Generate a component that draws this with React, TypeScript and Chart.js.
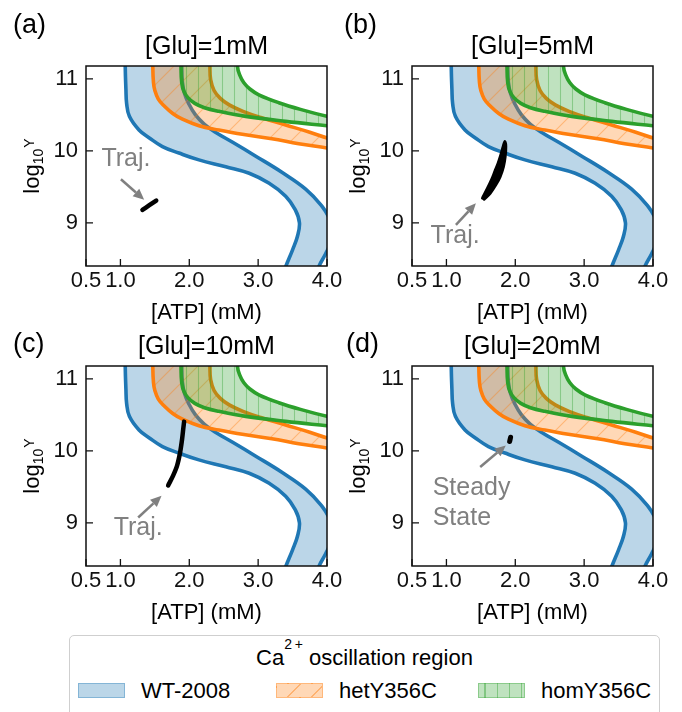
import React, { useEffect, useRef } from "react";
import { Chart, registerables } from "chart.js";

Chart.register(...registerables);

const FONT = "'Liberation Sans', Arial, Helvetica, sans-serif";

type Pt = [number, number];

// ---------- axes ----------
const xTickValues = [0.5, 1.0, 2.0, 3.0, 4.0];
const yTickValues = [9, 10, 11];
const xMin = 0.5;
const xMax = 4.0;
const yMin = 8.4;
const yMax = 11.18;

const panelTitles = ["[Glu]=1mM", "[Glu]=5mM", "[Glu]=10mM", "[Glu]=20mM"];
const panelLetters = ["(a)", "(b)", "(c)", "(d)"];
const xAxisTitle = "[ATP] (mM)";

// ---------- oscillation regions (boundaries, top -> bottom) ----------
const wtLeft: Pt[] = [
  [1.07, 11.5], [1.07, 11.17], [1.08, 10.85], [1.09, 10.66], [1.13, 10.48], [1.27, 10.29],
  [1.42, 10.18], [1.61, 10.06], [1.85, 9.97], [2.14, 9.875], [2.53, 9.78], [2.87, 9.69],
  [3.16, 9.55], [3.4, 9.37], [3.54, 9.18], [3.6, 9.0], [3.57, 8.81], [3.5, 8.625],
  [3.4, 8.39], [3.33, 8.2],
];
const wtRight: Pt[] = [
  [1.89, 11.5], [1.89, 11.17], [1.9, 10.95], [1.93, 10.8], [1.99, 10.66], [2.09, 10.5],
  [2.22, 10.37], [2.38, 10.26], [2.63, 10.12], [2.96, 9.93], [3.35, 9.7], [3.69, 9.47],
  [3.92, 9.24], [4.04, 9.05], [4.08, 8.88], [4.05, 8.72], [3.98, 8.57], [3.88, 8.39],
  [3.81, 8.2],
];
const hetLower: Pt[] = [
  [1.47, 11.5], [1.47, 11.17], [1.48, 10.95], [1.5, 10.84], [1.55, 10.72], [1.64, 10.62],
  [1.76, 10.52], [1.9, 10.44], [2.14, 10.35], [2.43, 10.29], [2.77, 10.23], [3.2, 10.17],
  [3.59, 10.1], [4.0, 10.04], [4.3, 9.99],
];
const hetUpper: Pt[] = [
  [2.3, 11.5], [2.3, 11.17], [2.31, 10.99], [2.36, 10.84], [2.45, 10.73], [2.58, 10.64],
  [2.78, 10.55], [3.05, 10.46], [3.4, 10.36], [3.75, 10.26], [4.0, 10.18], [4.3, 10.1],
];
const homLower: Pt[] = [
  [1.88, 11.5], [1.88, 11.17], [1.89, 10.95], [1.92, 10.83], [1.98, 10.74], [2.08, 10.66],
  [2.22, 10.6], [2.43, 10.55], [2.82, 10.48], [3.4, 10.41], [4.0, 10.35], [4.3, 10.32],
];
const homUpper: Pt[] = [
  [2.7, 11.5], [2.7, 11.17], [2.73, 11.06], [2.79, 10.95], [2.88, 10.86], [3.01, 10.78],
  [3.3, 10.67], [3.64, 10.57], [4.0, 10.48], [4.3, 10.42],
];

// ---------- trajectories ----------
const trajA: Pt[] = [[1.32, 9.18], [1.42, 9.245], [1.52, 9.31]];
const trajB: Pt[] = [
  [1.524, 9.343], [1.597, 9.481], [1.655, 9.597], [1.703, 9.713], [1.751, 9.829],
  [1.79, 9.944], [1.824, 10.06], [1.848, 10.13], [1.862, 10.06], [1.853, 9.921],
  [1.828, 9.782], [1.78, 9.643], [1.717, 9.528], [1.635, 9.412], [1.548, 9.329],
];
const trajC: Pt[] = [
  [1.693, 9.519], [1.765, 9.657], [1.823, 9.796], [1.867, 9.981], [1.896, 10.167],
  [1.915, 10.329], [1.925, 10.407],
];
const trajD: Pt[] = [[1.918, 10.13], [1.932, 10.19]];
const trajectories = [trajA, trajB, trajC, trajD];

// ---------- annotations ----------
const annotationTexts = [["Traj."], ["Traj."], ["Traj."], ["Steady", "State"]];
const annotationTextAt: Pt[] = [[1.08, 9.914], [1.126, 8.847], [1.258, 8.951], [0.8, 9.51]];
const arrowFrom: Pt[] = [[1.007, 9.606], [1.138, 8.972], [1.258, 9.074], [1.49, 9.776]];
const arrowTo: Pt[] = [[1.345, 9.32], [1.428, 9.273], [1.597, 9.375], [1.862, 10.076]];

const legendTitleMain = "Ca";
const legendTitleSup = "2\u2009+";
const legendTitleRest = " oscillation region";
const legendLabels = ["WT-2008", "hetY356C", "homY356C"];

// ---------- layout / style ----------
const CW = 345;
const CH = 330;
const panelBoxes = [
  { left: 0, top: 0, letterX: 13, letterY: 33, align: "center" },
  { left: 326, top: 0, letterX: 18, letterY: 33, align: "center" },
  { left: 0, top: 300, letterX: 13, letterY: 52, align: "center" },
  { left: 326, top: 300, letterX: 20, letterY: 52, align: "left" },
];

const BLUE = "31,119,180";
const ORANGE = "255,127,14";
const GREEN = "44,160,44";

function makePattern(kind: "none" | "diag" | "vert", rgb: string): CanvasPattern | string {
  if (kind === "none") return `rgba(${rgb},0.3)`;
  const P = kind === "diag" ? 24 : 12;
  const c = document.createElement("canvas");
  c.width = P;
  c.height = P;
  const g = c.getContext("2d")!;
  g.fillStyle = `rgba(${rgb},0.3)`;
  g.fillRect(0, 0, P, P);
  g.strokeStyle = `rgba(${rgb},0.38)`;
  g.lineWidth = 1.1;
  g.beginPath();
  if (kind === "diag") {
    g.moveTo(0, P); g.lineTo(P, 0);
    g.moveTo(-2, 2); g.lineTo(2, -2);
    g.moveTo(P - 2, P + 2); g.lineTo(P + 2, P - 2);
  } else {
    g.moveTo(P / 2 + 0.5, 0); g.lineTo(P / 2 + 0.5, P);
  }
  g.stroke();
  const pat = g.createPattern(c, "repeat");
  return pat || `rgba(${rgb},0.3)`;
}

function polygon(a: Pt[], b: Pt[]) {
  return a.concat(b.slice().reverse()).map(([x, y]) => ({ x, y }));
}

function drawArrow(ctx: CanvasRenderingContext2D, x1: number, y1: number, x2: number, y2: number) {
  const ang = Math.atan2(y2 - y1, x2 - x1);
  const hl = 11;
  const hw = 5;
  const bx = x2 - hl * Math.cos(ang);
  const by = y2 - hl * Math.sin(ang);
  ctx.strokeStyle = "#808080";
  ctx.fillStyle = "#808080";
  ctx.lineWidth = 2.5;
  ctx.beginPath();
  ctx.moveTo(x1, y1);
  ctx.lineTo(bx, by);
  ctx.stroke();
  ctx.beginPath();
  ctx.moveTo(x2, y2);
  ctx.lineTo(bx - hw * Math.sin(ang), by + hw * Math.cos(ang));
  ctx.lineTo(bx + hw * Math.sin(ang), by - hw * Math.cos(ang));
  ctx.closePath();
  ctx.fill();
}

function Panel({ idx }: { idx: number }) {
  const ref = useRef<HTMLCanvasElement>(null);
  useEffect(() => {
    const canvas = ref.current;
    if (!canvas) return;
    const box = panelBoxes[idx];
    const band = (lo: Pt[], hi: Pt[], rgb: string, hatch: "none" | "diag" | "vert", order: number) => ({
      data: polygon(lo, hi),
      borderColor: `rgb(${rgb})`,
      backgroundColor: makePattern(hatch, rgb),
      borderWidth: 3.6,
      fill: "shape",
      pointRadius: 0,
      tension: 0.4,
      borderJoinStyle: "round",
      order,
      clip: 0,
    });
    const traj = trajectories[idx];
    const decor = {
      id: "decor",
      afterDatasetsDraw(chart: any) {
        const ctx: CanvasRenderingContext2D = chart.ctx;
        const ca = chart.chartArea;
        const xs = chart.scales.x;
        const ys = chart.scales.y;
        ctx.save();
        // annotations
        const [fx, fy] = arrowFrom[idx];
        const [tx, ty] = arrowTo[idx];
        drawArrow(ctx, xs.getPixelForValue(fx), ys.getPixelForValue(fy), xs.getPixelForValue(tx), ys.getPixelForValue(ty));
        ctx.fillStyle = "#808080";
        ctx.font = `25px ${FONT}`;
        ctx.textBaseline = "alphabetic";
        ctx.textAlign = box.align as CanvasTextAlign;
        const [ax, ay] = annotationTextAt[idx];
        annotationTexts[idx].forEach((t, k) => {
          ctx.fillText(t, xs.getPixelForValue(ax), ys.getPixelForValue(ay) + 9 + k * 30);
        });
        // frame
        ctx.strokeStyle = "#111";
        ctx.lineWidth = 1.5;
        ctx.strokeRect(ca.left, ca.top, ca.right - ca.left, ca.bottom - ca.top);
        // inward ticks
        ctx.lineWidth = 1.3;
        ctx.beginPath();
        xTickValues.forEach((v) => {
          const px = xs.getPixelForValue(v);
          ctx.moveTo(px, ca.bottom);
          ctx.lineTo(px, ca.bottom - 7);
        });
        yTickValues.forEach((v) => {
          const py = ys.getPixelForValue(v);
          ctx.moveTo(ca.left, py);
          ctx.lineTo(ca.left + 7, py);
        });
        ctx.stroke();
        // title
        ctx.fillStyle = "#000";
        ctx.textAlign = "center";
        ctx.font = `25px ${FONT}`;
        ctx.fillText(panelTitles[idx], (ca.left + ca.right) / 2, ca.top - 12);
        // x axis title
        ctx.font = `22px ${FONT}`;
        ctx.fillText(xAxisTitle, (ca.left + ca.right) / 2, ca.bottom + 53);
        // panel letter
        ctx.textAlign = "left";
        ctx.font = `27px ${FONT}`;
        ctx.fillText(panelLetters[idx], box.letterX, box.letterY);
        // y axis title: log10Y
        ctx.translate(ca.left - 47, (ca.top + ca.bottom) / 2);
        ctx.rotate(-Math.PI / 2);
        ctx.font = `22px ${FONT}`;
        const w1 = ctx.measureText("log").width;
        ctx.font = `14px ${FONT}`;
        const w2 = ctx.measureText("10").width;
        const w3 = ctx.measureText("Y").width;
        let x = -(w1 + w2 + w3 + 1) / 2;
        ctx.font = `22px ${FONT}`;
        ctx.fillText("log", x, 0);
        x += w1;
        ctx.font = `14px ${FONT}`;
        ctx.fillText("10", x, 4);
        x += w2 + 1;
        ctx.fillText("Y", x, -5.5);
        ctx.restore();
      },
    };
    const chart = new Chart(canvas, {
      type: "line",
      data: {
        datasets: [
          band(wtLeft, wtRight, BLUE, "none", 4) as any,
          band(hetLower, hetUpper, ORANGE, "diag", 3) as any,
          band(homLower, homUpper, GREEN, "vert", 2) as any,
          {
            data: traj.map(([x, y]) => ({ x, y })),
            borderColor: "#000",
            backgroundColor: "#000",
            borderWidth: idx === 1 ? 3 : idx === 3 ? 5 : 4.5,
            fill: idx === 1 ? "shape" : false,
            borderCapStyle: "round",
            borderJoinStyle: "round",
            pointRadius: 0,
            tension: 0.3,
            order: 1,
            clip: 0,
          } as any,
        ],
      },
      options: {
        animation: false,
        responsive: false,
        devicePixelRatio: 1,
        events: [],
        layout: { padding: { left: 26, top: 66, right: CW - 327, bottom: 34 } },
        elements: { line: { capBezierPoints: false } },
        plugins: { legend: { display: false }, title: { display: false }, tooltip: { enabled: false } },
        scales: {
          x: {
            type: "linear",
            min: xMin,
            max: xMax,
            grid: { display: false, drawTicks: false, tickLength: 0 },
            border: { display: false },
            afterBuildTicks: (s: any) => {
              s.ticks = xTickValues.map((v) => ({ value: v }));
            },
            afterFit: (s: any) => {
              s.height = 30;
              s.paddingLeft = 0;
              s.paddingRight = 0;
            },
            ticks: {
              autoSkip: false,
              maxRotation: 0,
              minRotation: 0,
              padding: 2,
              color: "#111",
              font: { family: FONT, size: 22 },
              callback: (v: any) => Number(v).toFixed(1),
            },
          },
          y: {
            type: "linear",
            min: yMin,
            max: yMax,
            grid: { display: false, drawTicks: false, tickLength: 0 },
            border: { display: false },
            afterBuildTicks: (s: any) => {
              s.ticks = yTickValues.map((v) => ({ value: v }));
            },
            afterFit: (s: any) => {
              s.width = 60;
              s.paddingTop = 0;
              s.paddingBottom = 0;
            },
            ticks: {
              autoSkip: false,
              padding: 8,
              color: "#111",
              font: { family: FONT, size: 22 },
              callback: (v: any) => String(v),
            },
          },
        },
      },
      plugins: [decor],
    } as any);
    return () => chart.destroy();
  }, [idx]);
  const box = panelBoxes[idx];
  return (
    <div style={{ position: "absolute", left: box.left, top: box.top, width: CW, height: CH }}>
      <canvas ref={ref} width={CW} height={CH} style={{ display: "block", width: CW, height: CH }} />
    </div>
  );
}

const swatchStyles: React.CSSProperties[] = [
  {
    background: `rgba(${BLUE},0.3)`,
    border: `1.5px solid rgba(${BLUE},0.35)`,
  },
  {
    background: `repeating-linear-gradient(135deg, transparent 0px, transparent 15.9px, rgba(${ORANGE},0.42) 15.9px, rgba(${ORANGE},0.42) 17px), rgba(${ORANGE},0.3)`,
    border: `1.5px solid rgba(${ORANGE},0.35)`,
  },
  {
    background: `repeating-linear-gradient(90deg, transparent 0px, transparent 5.5px, rgba(${GREEN},0.42) 5.5px, rgba(${GREEN},0.42) 6.6px, transparent 6.6px, transparent 12px), rgba(${GREEN},0.3)`,
    border: `1.5px solid rgba(${GREEN},0.35)`,
  },
];
const swatchLefts = [78, 276, 478];
const labelLefts = [141, 339, 541];

function Legend() {
  return (
    <>
      <div
        style={{
          position: "absolute",
          left: 69,
          top: 635,
          width: 591,
          height: 90,
          border: "1px solid #cfcfcf",
          borderRadius: 5,
          boxSizing: "border-box",
          background: "#fff",
        }}
      />
      <div
        style={{
          position: "absolute",
          left: 69,
          top: 647,
          width: 591,
          textAlign: "center",
          fontFamily: FONT,
          fontSize: 22,
          lineHeight: "22px",
          color: "#000",
          whiteSpace: "nowrap",
        }}
      >
        {legendTitleMain}
        <span style={{ fontSize: 14, position: "relative", top: -16 }}>{legendTitleSup}</span>
        {legendTitleRest}
      </div>
      {legendLabels.map((lab, i) => (
        <React.Fragment key={lab}>
          <div
            style={{
              position: "absolute",
              left: swatchLefts[i],
              top: 683,
              width: 47,
              height: 15,
              boxSizing: "border-box",
              ...swatchStyles[i],
            }}
          />
          <div
            style={{
              position: "absolute",
              left: labelLefts[i],
              top: 679.5,
              fontFamily: FONT,
              fontSize: 22,
              lineHeight: "22px",
              color: "#000",
              whiteSpace: "nowrap",
            }}
          >
            {lab}
          </div>
        </React.Fragment>
      ))}
    </>
  );
}

export default function App() {
  return (
    <div style={{ position: "absolute", left: 0, top: 0, width: 682, height: 712, overflow: "hidden", background: "#fff" }}>
      {[0, 1, 2, 3].map((i) => (
        <Panel key={i} idx={i} />
      ))}
      <Legend />
    </div>
  );
}
